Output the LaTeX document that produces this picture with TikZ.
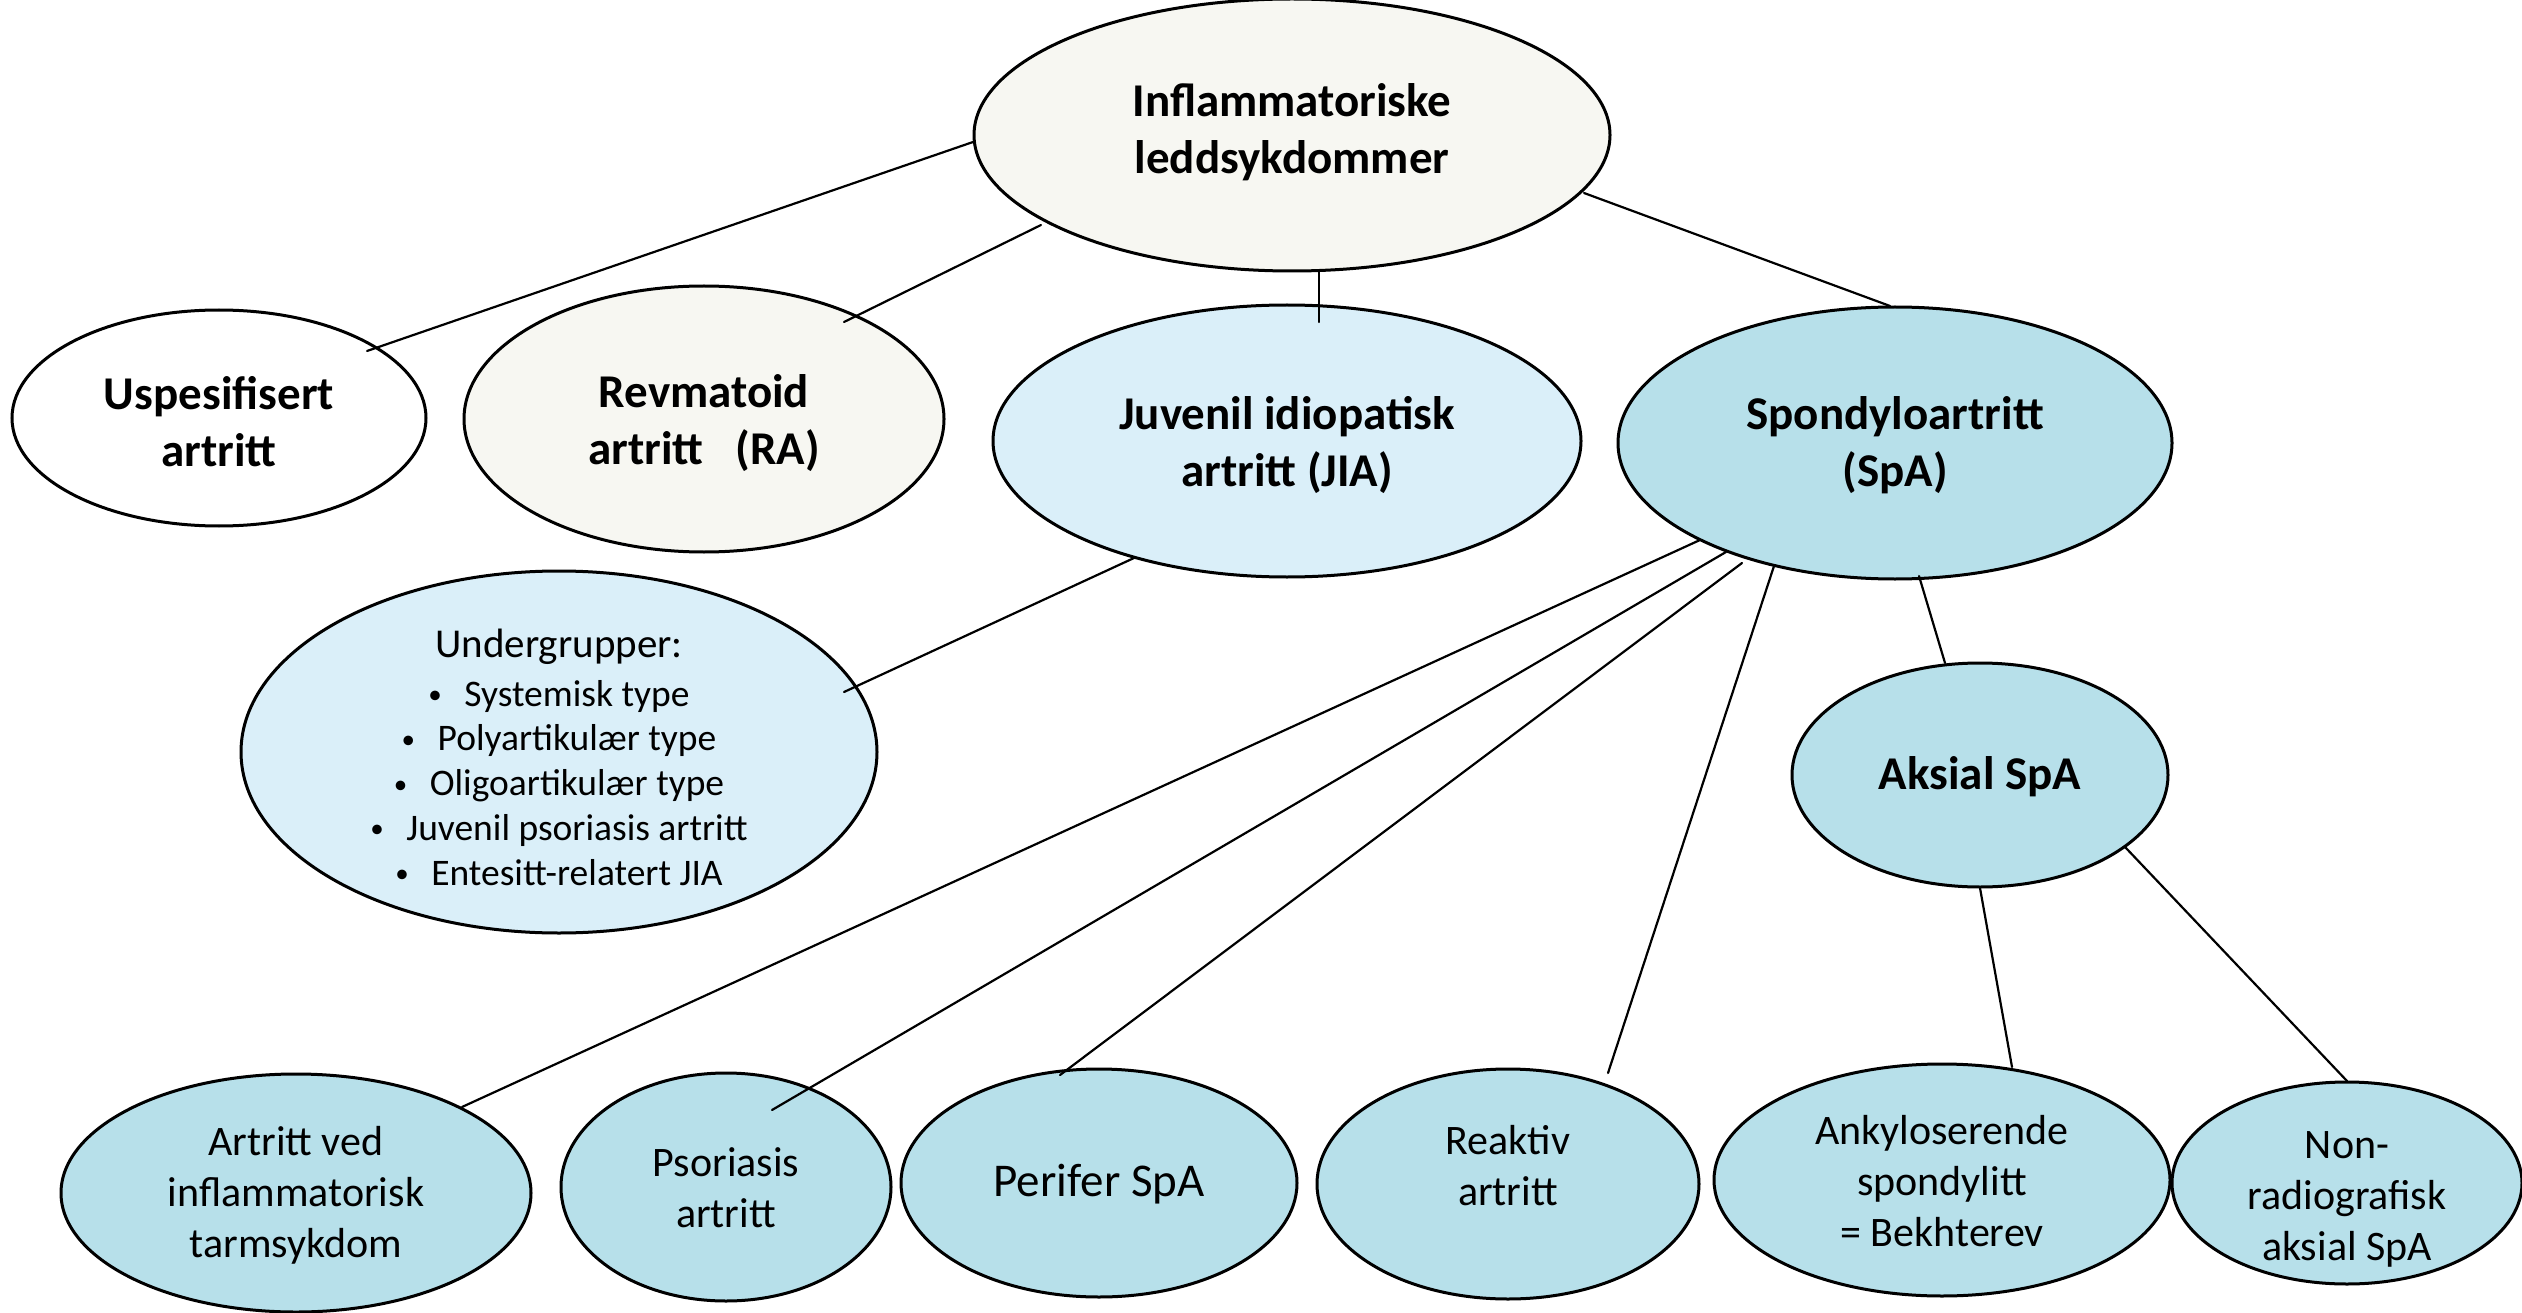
\documentclass[tikz,border=0pt]{standalone}
\usepackage{fontspec}
\usepackage{graphicx}
\setmainfont{Carlito}
\usetikzlibrary{shapes.geometric}
\definecolor{cream}{HTML}{F7F7F2}
\definecolor{paleblue}{HTML}{DAEFF9}
\definecolor{midblue}{HTML}{B7E0EA}
\newcommand\setfs[2]{\fontsize{#1}{#2}\selectfont}
\newcommand\bul{\raisebox{0.07em}{\scalebox{0.72}{•}}\hspace{0.6em}}
\tikzset{
  ell/.style={ellipse, draw=black, line width=3pt, inner sep=0pt},
  boldlbl/.style={align=center, inner sep=0pt, font=\setfs{47}{57}\bfseries},
  reglbl/.style={align=center, inner sep=0pt, font=\setfs{42}{51}},
  bullbl/.style={align=center, inner sep=0pt, font=\setfs{37.5}{44.7}},
  conn/.style={line width=2.2pt, line cap=round}
}
\begin{document}
\begin{tikzpicture}[x=1pt,y=-1pt]
\useasboundingbox[fill=white] (0,0) rectangle (2522,1313);
% ellipses
\node[ell, fill=cream, minimum width=636pt, minimum height=272pt] (top) at (1292,135) {};
\node[ell, fill=white, minimum width=414pt, minimum height=216pt] (usp) at (219,418) {};
\node[ell, fill=cream, minimum width=480pt, minimum height=266pt] (ra) at (704,419) {};
\node[ell, fill=paleblue, minimum width=588pt, minimum height=272pt] (jia) at (1287,441) {};
\node[ell, fill=midblue, minimum width=554pt, minimum height=272pt] (spa) at (1895,443) {};
\node[ell, fill=paleblue, minimum width=636pt, minimum height=362pt] (ug) at (559,752) {};
\node[ell, fill=midblue, minimum width=376pt, minimum height=224pt] (ak) at (1980,775) {};
\node[ell, fill=midblue, minimum width=470pt, minimum height=238pt] (av) at (296,1193) {};
\node[ell, fill=midblue, minimum width=330pt, minimum height=228pt] (ps) at (726,1187) {};
\node[ell, fill=midblue, minimum width=396pt, minimum height=228pt] (pf) at (1099,1183) {};
\node[ell, fill=midblue, minimum width=382pt, minimum height=230pt] (rk) at (1508,1184) {};
\node[ell, fill=midblue, minimum width=456pt, minimum height=232pt] (an) at (1942,1180) {};
\node[ell, fill=midblue, minimum width=350pt, minimum height=202pt] (nr) at (2347,1183) {};
% connectors
\draw[conn] ([shift={(-319,7)}]top.center) -- ([shift={(148,-67)}]usp.center);
\draw[conn] ([shift={(-251,90)}]top.center) -- ([shift={(140,-97)}]ra.center);
\draw[conn] ([shift={(27,136)}]top.center) -- ([shift={(32,-119)}]jia.center);
\draw[conn] ([shift={(292,58)}]top.center) -- ([shift={(-5,-137)}]spa.center);
\draw[conn] ([shift={(-153,117)}]jia.center) -- ([shift={(285,-60)}]ug.center);
\draw[conn] ([shift={(-195,97)}]spa.center) -- ([shift={(166,-86)}]av.center);
\draw[conn] ([shift={(-169,109)}]spa.center) -- ([shift={(46,-77)}]ps.center);
\draw[conn] ([shift={(-153,120)}]spa.center) -- ([shift={(-39,-108)}]pf.center);
\draw[conn] ([shift={(-121,123)}]spa.center) -- ([shift={(100,-111)}]rk.center);
\draw[conn] ([shift={(24,133)}]spa.center) -- ([shift={(-35,-112)}]ak.center);
\draw[conn] ([shift={(0,113)}]ak.center) -- ([shift={(70,-113)}]an.center);
\draw[conn] ([shift={(145,72)}]ak.center) -- ([shift={(0,-102)}]nr.center);
% texts
\node[boldlbl] (top-t) at (1292,132) {Inflammatoriske\\leddsykdommer};
\node[boldlbl] (usp-t) at (219,422) {Uspesifisert\\artritt};
\node[boldlbl] (ra-t) at (704,423) {Revmatoid\\artritt\ \ \ (RA)};
\node[boldlbl] (jia-t) at (1287,445) {Juvenil idiopatisk\\artritt (JIA)};
\node[boldlbl] (spa-t) at (1895,445) {Spondyloartritt\\(SpA)};
\node[boldlbl] (ak-t) at (1980,777) {Aksial SpA};
\node[align=center, inner sep=0pt, font=\setfs{41}{50}] (ug-h) at (559,647) {Undergrupper:};
\node[bullbl, anchor=north] (ug-t) at (559,680) {\bul Systemisk type\\\bul Polyartikulær type\\\bul Oligoartikulær type\\\bul Juvenil psoriasis artritt\\\bul Entesitt-relatert JIA};
\node[reglbl] (av-t) at (296,1195) {Artritt ved\\inflammatorisk\\tarmsykdom};
\node[reglbl] (ps-t) at (726,1188) {Psoriasis\\artritt};
\node[align=center, inner sep=0pt, font=\setfs{47}{57}] (pf-t) at (1099,1184) {Perifer SpA};
\node[reglbl] (rk-t) at (1508,1166) {Reaktiv\\artritt};
\node[reglbl] (an-t) at (1942,1181) {Ankyloserende\\spondylitt\\= Bekhterev};
\node[reglbl] (nr-t) at (2347,1199) {Non-\\radiografisk\\aksial SpA};
\end{tikzpicture}
\end{document}
